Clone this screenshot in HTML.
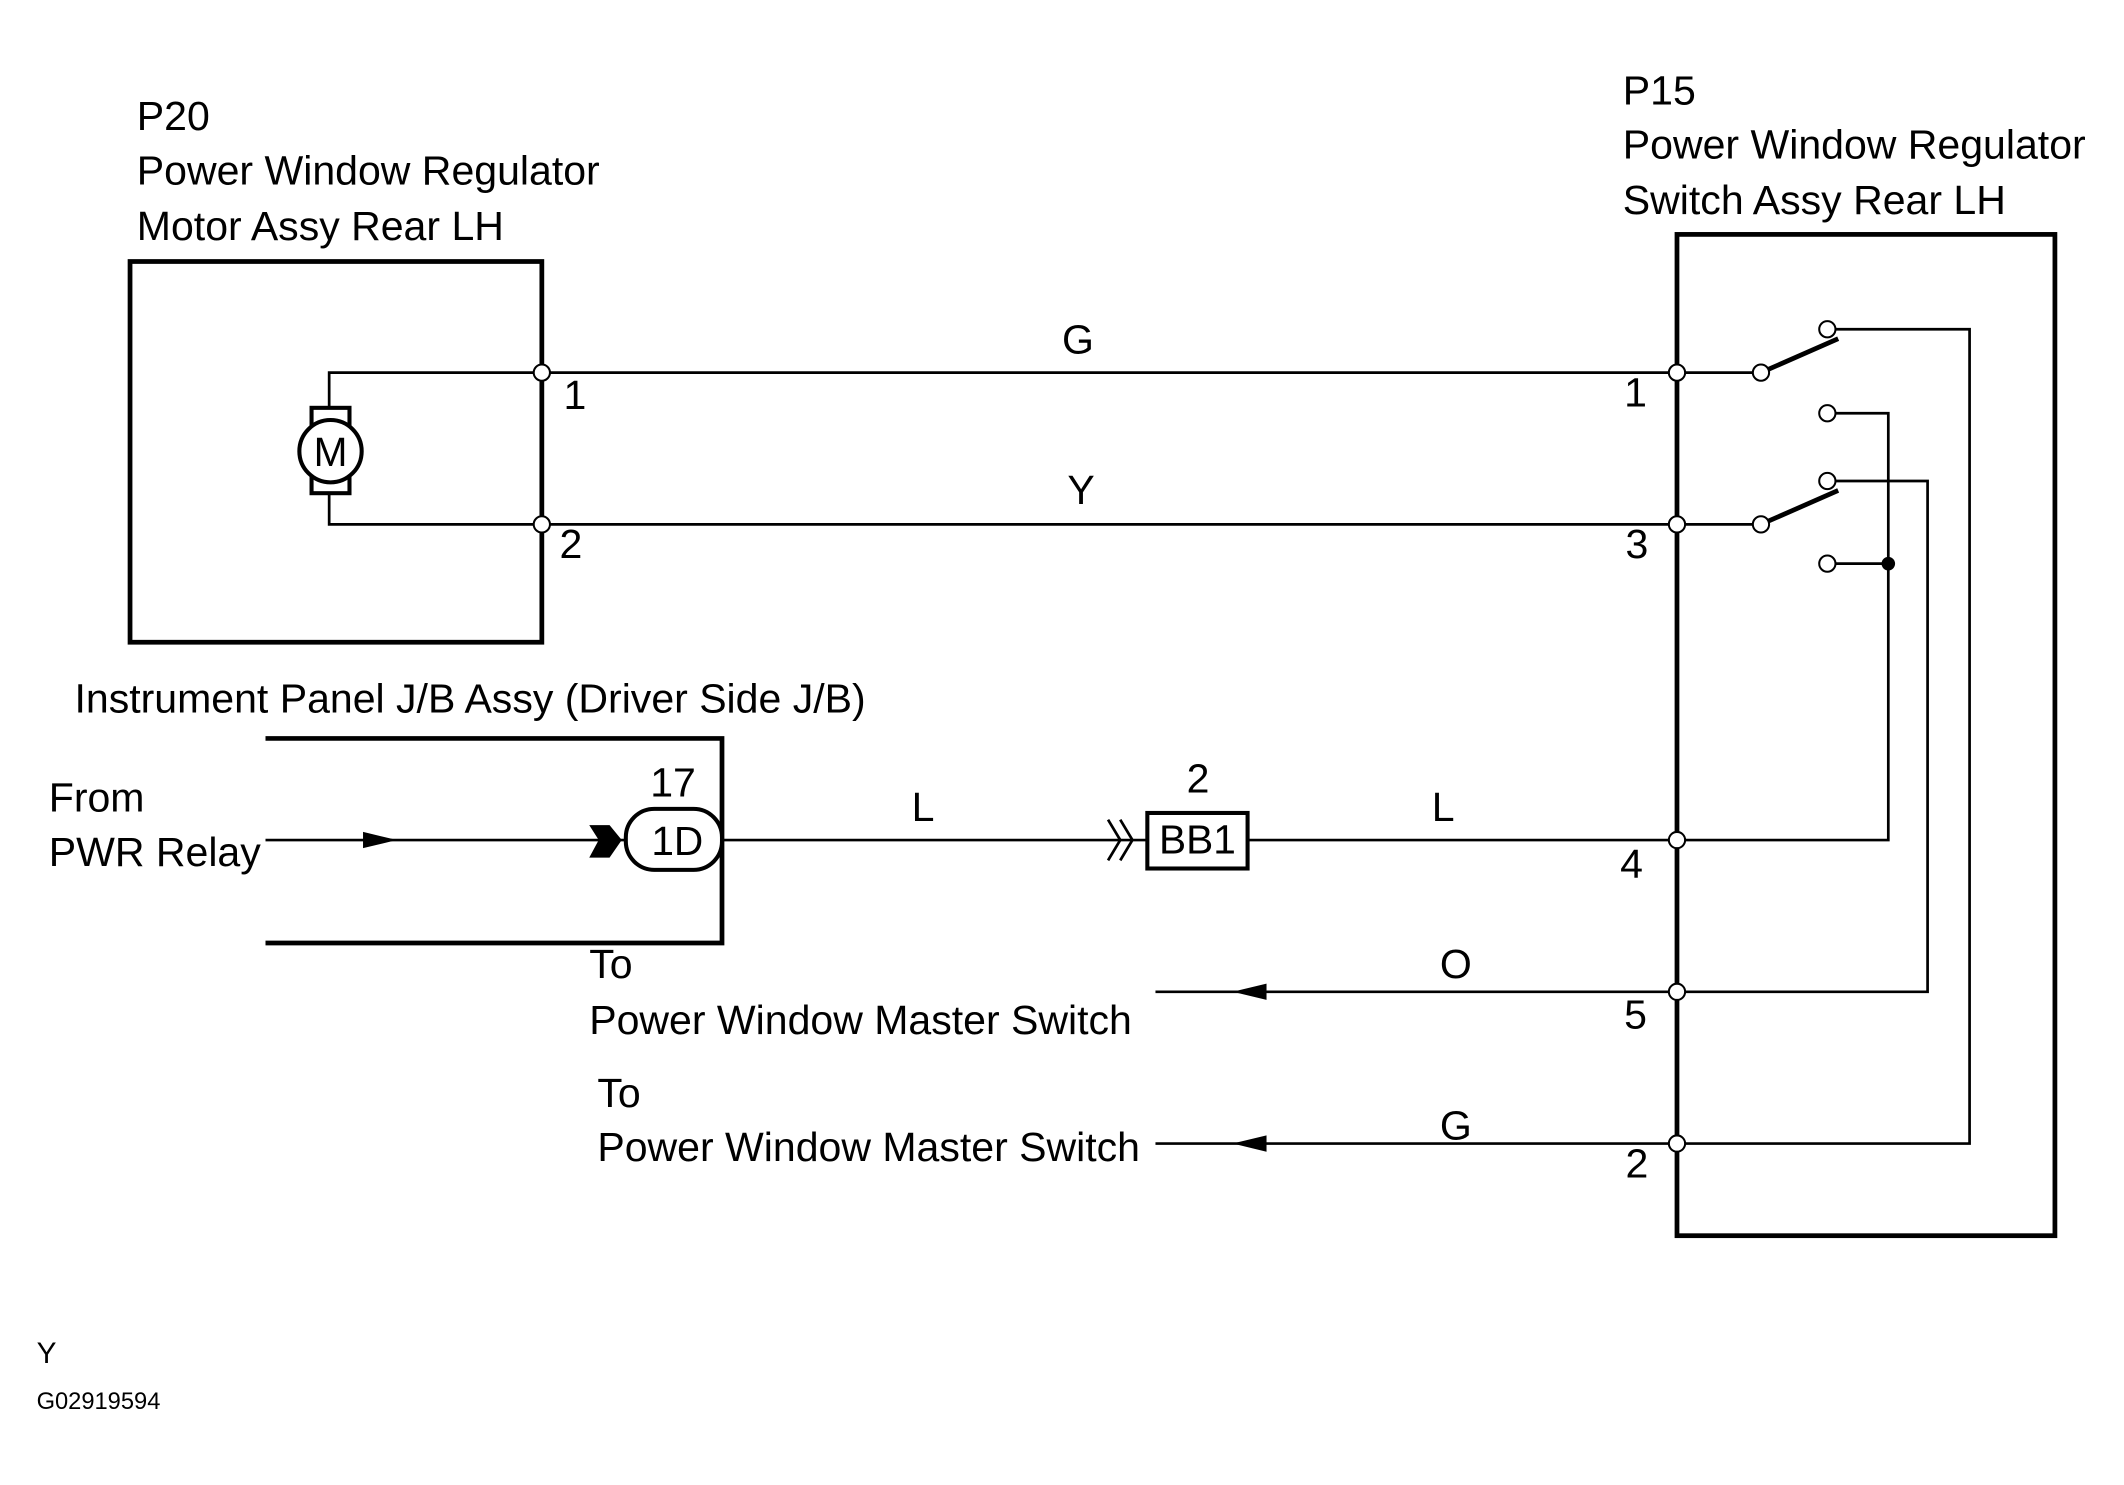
<!DOCTYPE html>
<html><head><meta charset="utf-8"><style>
html,body{margin:0;padding:0;background:#fff;}
svg{display:block;}
text{font-family:"Liberation Sans",Arial,sans-serif;fill:#000;}
</style></head><body>
<svg width="2124" height="1485" viewBox="0 0 1568 1096" preserveAspectRatio="none" xmlns="http://www.w3.org/2000/svg">
<rect width="1568" height="1096" fill="#fff"/>
<g font-size="30.3">
<text x="101" y="96">P20</text>
<text x="101" y="136">Power Window Regulator</text>
<text x="101" y="177">Motor Assy Rear LH</text>
<text x="1198" y="77">P15</text>
<text x="1198" y="117">Power Window Regulator</text>
<text x="1198" y="158">Switch Assy Rear LH</text>
<text x="55" y="526">Instrument Panel J/B Assy (Driver Side J/B)</text>
<text x="36" y="599">From</text>
<text x="36" y="639">PWR Relay</text>
<text x="435" y="722">To</text>
<text x="435" y="763">Power Window Master Switch</text>
<text x="441" y="817">To</text>
<text x="441" y="857">Power Window Master Switch</text>
<text x="784" y="261">G</text>
<text x="788" y="372">Y</text>
<text x="673" y="606">L</text>
<text x="1057" y="606">L</text>
<text x="1063" y="722">O</text>
<text x="1063" y="841">G</text>
<text x="416" y="302">1</text>
<text x="413" y="412">2</text>
<text x="1199" y="300">1</text>
<text x="1200" y="412">3</text>
<text x="1196" y="648">4</text>
<text x="1199" y="759">5</text>
<text x="1200" y="869">2</text>
<text x="480" y="588">17</text>
<text x="876" y="585">2</text>
</g>
<text x="27" y="1006" font-size="22">Y</text>
<text x="27" y="1040" font-size="17.5">G02919594</text>

<g stroke="#000" fill="none">
<rect x="96" y="193" width="304" height="281" stroke-width="3.5"/>
<rect x="1238" y="173" width="279" height="739" stroke-width="3.5"/>
<polyline points="196,545 533,545 533,696 196,696" stroke-width="3.5"/>
<g stroke-width="2">
<polyline points="243,302 243,275 1238,275"/>
<polyline points="243,364 243,387 1238,387"/>
<line x1="196" y1="620" x2="463" y2="620"/>
<line x1="532" y1="620" x2="847" y2="620"/>
<line x1="921" y1="620" x2="1238" y2="620"/>
<line x1="853" y1="732" x2="1238" y2="732"/>
<line x1="853" y1="844" x2="1238" y2="844"/>
<line x1="1238" y1="275" x2="1300" y2="275"/>
<line x1="1238" y1="387" x2="1300" y2="387"/>
<polyline points="1349,243 1454,243 1454,844 1238,844"/>
<polyline points="1349,305 1394,305 1394,620 1238,620"/>
<polyline points="1349,355 1423,355 1423,732 1238,732"/>
<line x1="1349" y1="416" x2="1394" y2="416"/>
<polyline points="818,605 827,620 818,635"/>
<polyline points="827,605 836,620 827,635"/>
</g>
<line x1="1300" y1="275" x2="1357" y2="250" stroke-width="3.5"/>
<line x1="1300" y1="387" x2="1357" y2="362" stroke-width="3.5"/>
<rect x="230" y="301" width="28" height="63" stroke-width="3"/>
<circle cx="244" cy="333" r="23" stroke-width="3" fill="#fff"/>
<rect x="462" y="597" width="71" height="45" rx="21" stroke-width="3" fill="#fff"/>
<rect x="847" y="600" width="74" height="41" stroke-width="3" fill="#fff"/>
<g stroke-width="1.5" fill="#fff">
<circle cx="400" cy="275" r="6"/><circle cx="400" cy="387" r="6"/>
<circle cx="1238" cy="275" r="6"/><circle cx="1238" cy="387" r="6"/>
<circle cx="1238" cy="620" r="6"/><circle cx="1238" cy="732" r="6"/>
<circle cx="1238" cy="844" r="6"/>
<circle cx="1300" cy="275" r="6"/><circle cx="1300" cy="387" r="6"/>
<circle cx="1349" cy="243" r="6"/><circle cx="1349" cy="305" r="6"/>
<circle cx="1349" cy="355" r="6"/><circle cx="1349" cy="416" r="6"/>
</g>
</g>
<circle cx="1394" cy="416" r="5" fill="#000"/>
<polygon points="268,614 293,620 268,626" fill="#000"/>
<polygon points="435,609 450,609 459,620 450,633 435,633 442,620" fill="#000"/>
<polygon points="935,726 910,732 935,738" fill="#000"/>
<polygon points="935,838 910,844 935,850" fill="#000"/>
<g font-size="30" text-anchor="middle">
<text x="244" y="344">M</text>
<text x="500" y="631">1D</text>
<text x="884" y="630">BB1</text>
</g>
</svg>
</body></html>
